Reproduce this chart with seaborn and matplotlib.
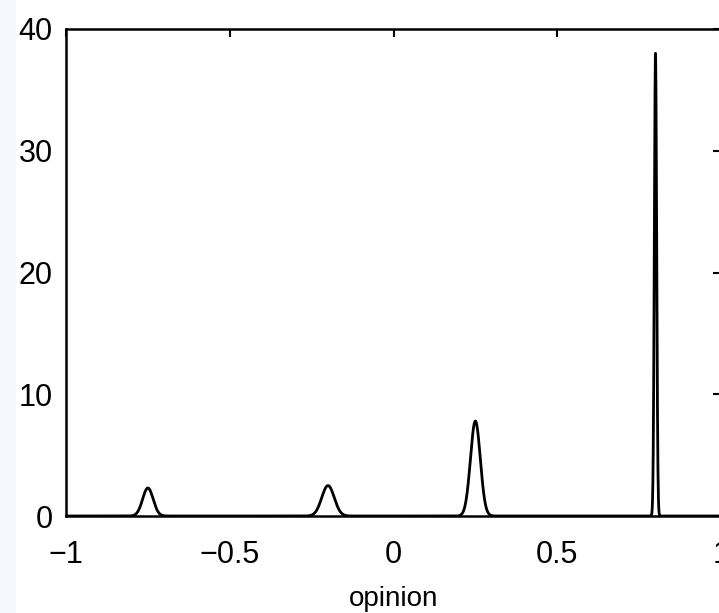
import numpy as np
import pandas as pd
import matplotlib
matplotlib.use("Agg")
import matplotlib.pyplot as plt
import seaborn as sns

# Peaks of the opinion density
peak_centers = [-0.75, -0.20, 0.25, 0.80]
peak_heights = [2.3, 2.5, 7.8, 38.0]
peak_sigmas = [0.016, 0.019, 0.015, 0.0035]

x_ticks = [-1, -0.5, 0, 0.5, 1]
x_tick_labels = ["\u22121", "\u22120.5", "0", "0.5", "1"]
y_ticks = [0, 10, 20, 30, 40]
y_tick_labels = ["0", "10", "20", "30", "40"]
x_label = "opinion"

x = np.linspace(-1, 1, 4001)
density = np.zeros_like(x)
for c, h, s in zip(peak_centers, peak_heights, peak_sigmas):
    density += h * np.exp(-0.5 * ((x - c) / s) ** 2)
df = pd.DataFrame({"opinion": x, "density": density})

sns.set_theme(style="white")
plt.rcParams["font.family"] = ["Liberation Sans", "DejaVu Sans"]

fig = plt.figure(figsize=(7.19, 6.13), dpi=100)
fig.patch.set_facecolor("white")
fig.patches.append(matplotlib.patches.Rectangle((0, 0), 16 / 719, 1, transform=fig.transFigure,
                                                facecolor="#f5f8fe", edgecolor="none", zorder=0))
ax = fig.add_axes([66 / 719, 1 - 516 / 613, 655 / 719, 487 / 613])

sns.lineplot(data=df, x="opinion", y="density", ax=ax, color="black", linewidth=2.0)

ax.set_xlim(-1, 1)
ax.set_ylim(0, 40)
ax.set_xticks(x_ticks)
ax.set_xticklabels(x_tick_labels)
ax.set_yticks(y_ticks)
ax.set_yticklabels(y_tick_labels)
ax.set_xlabel(x_label, fontsize=20, labelpad=11.5, color="black")
ax.set_ylabel("")
ax.tick_params(axis="both", which="both", direction="in", length=6, width=1.5,
               top=True, right=True, labelsize=22, color="black", labelcolor="black")
ax.tick_params(axis="x", pad=17)
ax.tick_params(axis="y", pad=9.5)
for sp in ax.spines.values():
    sp.set_visible(True)
    sp.set_color("black")
    sp.set_linewidth(1.8)

fig.savefig("out.png", dpi=100)
